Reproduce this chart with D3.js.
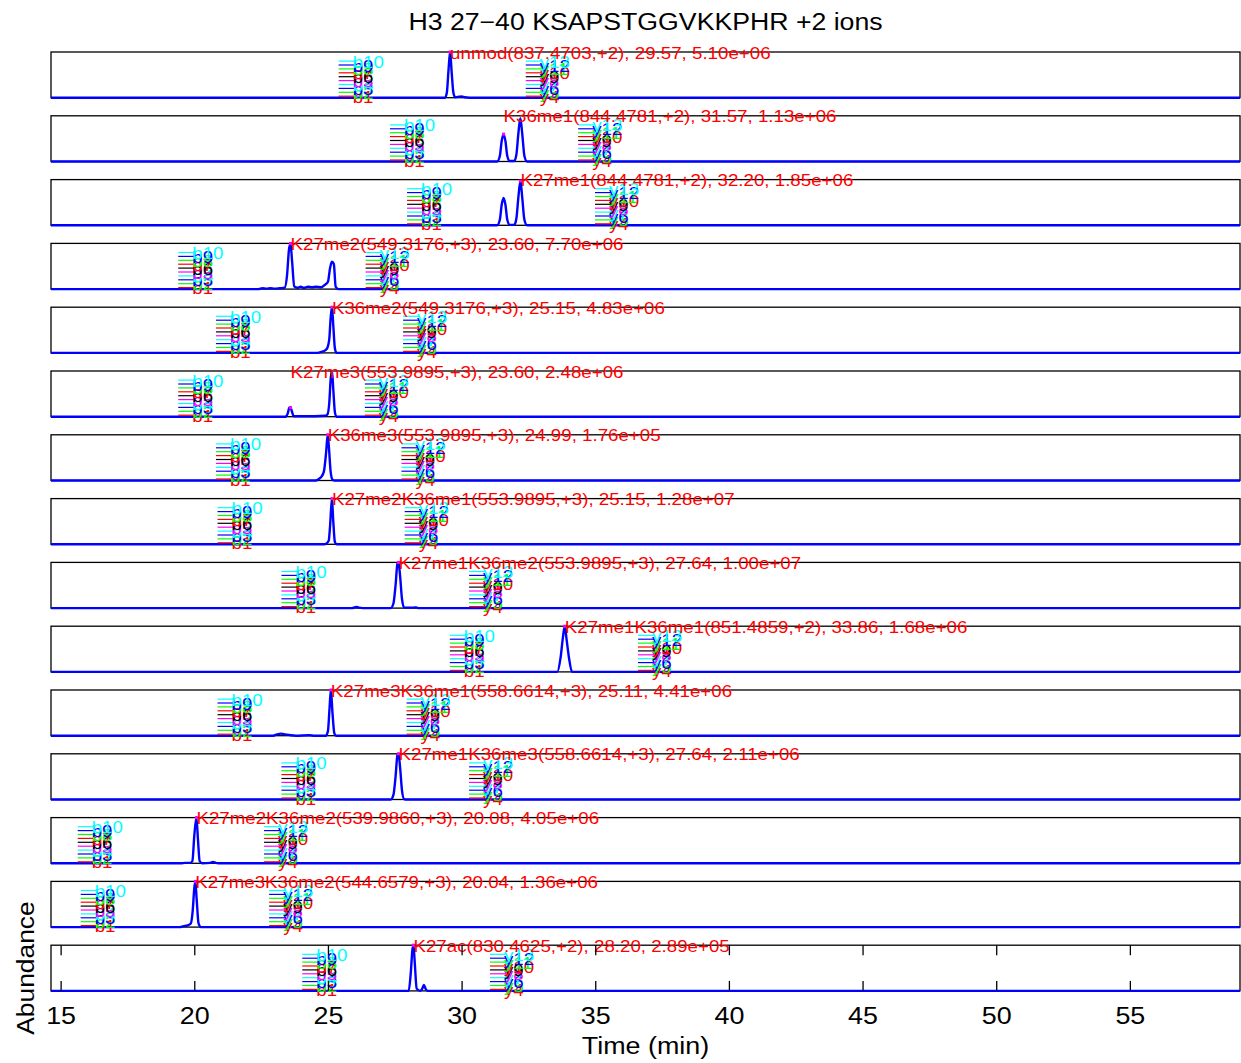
<!DOCTYPE html>
<html>
<head>
<meta charset="utf-8">
<script src="https://cdn.jsdelivr.net/npm/d3@7"></script>
<style>
  body { margin: 0; background: #fff; }
</style>
</head>
<body>
<div id="chart"></div>
<script>
// peptide forms, one panel each
const peptides = [
  "unmod(837.4703,+2)", "K36me1(844.4781,+2)", "K27me1(844.4781,+2)",
  "K27me2(549.3176,+3)", "K36me2(549.3176,+3)", "K27me3(553.9895,+3)",
  "K36me3(553.9895,+3)", "K27me2K36me1(553.9895,+3)", "K27me1K36me2(553.9895,+3)",
  "K27me1K36me1(851.4859,+2)", "K27me3K36me1(558.6614,+3)", "K27me1K36me3(558.6614,+3)",
  "K27me2K36me2(539.9860,+3)", "K27me3K36me2(544.6579,+3)", "K27ac(830.4625,+2)"
];
const rts = [29.57, 31.57, 32.20, 23.60, 25.15, 23.60, 24.99, 25.15, 27.64, 33.86, 25.11, 27.64, 20.08, 20.04, 28.20];
const areas = [5.10e6, 1.13e6, 1.85e6, 7.70e6, 4.83e6, 2.48e6, 1.76e5, 1.28e7, 1.00e7, 1.68e6, 4.41e6, 2.11e6, 4.05e6, 1.36e6, 2.89e5];

// where the b / y fragment stacks sit (min)
const bIonRT = [25.40, 27.32, 27.96, 19.40, 20.81, 19.40, 20.81, 20.87, 23.26, 29.56, 20.87, 23.26, 15.64, 15.75, 24.04];
const yIonRT = [32.40, 34.36, 34.99, 26.41, 27.81, 26.38, 27.75, 27.87, 30.28, 36.60, 27.94, 30.28, 22.61, 22.80, 31.06];

const bIons = ["b1", "b2", "b3", "b4", "b5", "b6", "b7", "b8", "b9", "b10"];
const yIons = ["y4", "y5", "y6", "y7", "y8", "y9", "y10", "y11", "y12", "y13"];
const ionColors = ["#ff0000", "#00ff00", "#0000ff", "#00ffff", "#ff00ff", "#000000"];

const xTicks = [15, 20, 25, 30, 35, 40, 45, 50, 55];

// relative abundance traces [time, rel]
const traces = [
  [[14.64,0],[29.38,0],[29.45,0.12],[29.51,0.6],[29.57,1],[29.63,0.55],[29.69,0.12],[29.76,0.01],[29.9,0.02],[30.0,0.03],[30.12,0.01],[30.3,0],[59.12,0]],
  [[14.64,0],[31.33,0],[31.43,0.12],[31.5,0.45],[31.57,0.6],[31.64,0.45],[31.71,0.12],[31.8,0.01],[31.97,0.01],[32.05,0.15],[32.13,0.65],[32.2,0.95],[32.27,0.6],[32.35,0.12],[32.45,0],[59.12,0]],
  [[14.64,0],[31.33,0],[31.43,0.12],[31.5,0.45],[31.57,0.6],[31.64,0.45],[31.71,0.12],[31.8,0.01],[31.97,0.01],[32.05,0.15],[32.13,0.65],[32.2,0.97],[32.27,0.6],[32.35,0.12],[32.45,0],[59.12,0]],
  [[14.64,0],[22.4,0],[22.55,0.02],[22.7,0.01],[22.85,0.02],[23.0,0.01],[23.2,0.02],[23.38,0.03],[23.47,0.3],[23.54,0.85],[23.6,1],[23.66,0.6],[23.74,0.06],[23.85,0.03],[23.98,0.05],[24.1,0.03],[24.25,0.05],[24.4,0.04],[24.55,0.05],[24.75,0.04],[24.9,0.1],[25.0,0.16],[25.08,0.46],[25.15,0.6],[25.22,0.55],[25.29,0.05],[25.4,0],[59.12,0]],
  [[14.64,0],[24.6,0],[24.75,0.02],[24.88,0.05],[24.97,0.1],[25.05,0.3],[25.1,0.75],[25.15,1],[25.2,0.6],[25.26,0.1],[25.32,0],[59.12,0]],
  [[14.64,0],[23.42,0],[23.5,0.08],[23.56,0.2],[23.6,0.2],[23.65,0.12],[23.72,0.01],[24.0,0.01],[24.5,0.01],[24.9,0.02],[24.98,0.05],[25.05,0.3],[25.1,0.8],[25.15,1],[25.2,0.6],[25.26,0.1],[25.32,0],[59.12,0]],
  [[14.64,0],[24.55,0],[24.65,0.03],[24.75,0.08],[24.85,0.2],[24.93,0.6],[24.99,1],[25.04,0.7],[25.1,0.2],[25.17,0.02],[25.25,0],[59.12,0]],
  [[14.64,0],[24.85,0],[24.95,0.02],[25.03,0.08],[25.08,0.4],[25.15,1],[25.2,0.5],[25.26,0.05],[25.33,0],[59.12,0]],
  [[14.64,0],[25.9,0],[26.02,0.02],[26.08,0.025],[26.16,0.01],[26.3,0],[27.35,0],[27.45,0.1],[27.53,0.5],[27.6,0.97],[27.64,1],[27.7,0.7],[27.77,0.2],[27.85,0.01],[28.2,0.01],[28.3,0.015],[28.4,0],[59.12,0]],
  [[14.64,0],[33.58,0],[33.7,0.3],[33.79,0.75],[33.86,1],[33.93,0.7],[34.02,0.3],[34.13,0],[59.12,0]],
  [[14.64,0],[22.95,0],[23.1,0.03],[23.25,0.045],[23.4,0.03],[23.6,0.01],[23.8,0],[24.3,0.01],[24.5,0],[24.92,0],[25.0,0.1],[25.06,0.6],[25.11,1],[25.17,0.5],[25.24,0.05],[25.3,0],[59.12,0]],
  [[14.64,0],[27.35,0],[27.45,0.1],[27.53,0.5],[27.6,0.97],[27.64,1],[27.7,0.7],[27.77,0.2],[27.85,0.01],[27.95,0],[59.12,0]],
  [[14.64,0],[19.5,0],[19.65,0.01],[19.85,0.01],[19.93,0.05],[20.0,0.6],[20.08,1],[20.14,0.5],[20.2,0.05],[20.3,0],[20.6,0.01],[20.7,0.03],[20.8,0.01],[20.9,0],[59.12,0]],
  [[14.64,0],[19.45,0],[19.6,0.02],[19.75,0.04],[19.87,0.08],[19.94,0.35],[20.0,0.85],[20.04,1],[20.09,0.6],[20.16,0.08],[20.25,0],[59.12,0]],
  [[14.64,0],[28.02,0],[28.1,0.4],[28.16,0.9],[28.2,1],[28.25,0.6],[28.32,0.05],[28.45,0],[28.53,0.05],[28.59,0.13],[28.65,0.05],[28.72,0],[59.12,0]]
];

let width = 1241, height = 1063;
let left = 51, right = 1240;
let firstTop = 52, step = 63.8, panelH = 45.7;

let svg = d3.select("#chart")
  .append("svg")
  .attr("width", width)
  .attr("height", height)
  .style("font-family", "'Liberation Sans', Arial, Helvetica, sans-serif");

let x = d3.scaleLinear().domain([14.64, 59.12]).range([left, right]);

function fmtArea(v) {
  return v.toExponential(2).replace(/e([+-])(\d)$/, (m, s, d) => "e" + s + "0" + d);
}

// value of a trace at time t (linear)
function valueAt(tr, t) {
  let i = d3.bisector(d => d[0]).left(tr, t);
  if (i <= 0) return tr[0][1];
  if (i >= tr.length) return tr[tr.length - 1][1];
  let a = tr[i - 1], b = tr[i];
  return a[1] + (b[1] - a[1]) * (t - a[0]) / (b[0] - a[0]);
}

function drawIons(g, t, ions, bottom) {
  let x0 = x(t);
  ions.forEach((ion, k) => {
    let ly = bottom - 1.5 - k * 3.9;
    let c = ionColors[k % ionColors.length];
    g.append("line")
      .attr("x1", x0).attr("x2", x0 + 16)
      .attr("y1", ly).attr("y2", ly)
      .attr("stroke", c).attr("stroke-width", 1.2);
    g.append("text")
      .attr("transform", "translate(" + (x0 + 14) + "," + (ly + 6.5) + ") scale(1.1,1)")
      .attr("font-size", 17)
      .attr("fill", c)
      .text(ion);
  });
}

peptides.forEach((name, i) => {
  let top = firstTop + i * step;
  let bottom = top + panelH;
  let y = d3.scaleLinear().domain([0, 1]).range([bottom, top]);
  let g = svg.append("g").attr("class", "panel");

  g.append("rect")
    .attr("x", left).attr("y", top)
    .attr("width", right - left).attr("height", panelH)
    .attr("fill", "none").attr("stroke", "#000").attr("stroke-width", 1.3);

  let line = d3.line()
    .x(d => x(d[0]))
    .y(d => y(d[1]))
    .curve(d3.curveMonotoneX);

  g.append("path")
    .datum(traces[i])
    .attr("d", line)
    .attr("fill", "none")
    .attr("stroke", "#0000ff")
    .attr("stroke-width", 2.4);

  drawIons(g, bIonRT[i], bIons, bottom);
  drawIons(g, yIonRT[i], yIons, bottom);

  let apex = valueAt(traces[i], rts[i]);
  g.append("rect")
    .attr("x", x(rts[i]) - 1.5).attr("y", y(apex) - 1.5)
    .attr("width", 3).attr("height", 3)
    .attr("fill", "#ff00ff");

  g.append("text")
    .attr("transform", "translate(" + x(rts[i]) + "," + (top + 6.5) + ") scale(1.17,1)")
    .attr("font-size", 16)
    .attr("fill", "#ff0000")
    .text(name + ", " + rts[i].toFixed(2) + ", " + fmtArea(areas[i]));
});

// axis on the last panel only
let lastTop = firstTop + (peptides.length - 1) * step;
let lastBottom = lastTop + panelH;

let axB = svg.append("g")
  .attr("transform", "translate(0," + lastBottom + ")")
  .call(d3.axisBottom(x).tickValues(xTicks).tickSize(-10).tickPadding(16).tickFormat(d3.format("d")));
axB.select(".domain").remove();
axB.attr("font-family", null).attr("font-size", 24);
axB.selectAll("line").attr("stroke", "#000").attr("stroke-width", 1.3);
axB.selectAll("text").attr("fill", "#000").attr("transform", "scale(1.12,1)");

let axT = svg.append("g")
  .attr("transform", "translate(0," + lastTop + ")")
  .call(d3.axisTop(x).tickValues(xTicks).tickSize(-10).tickFormat(""));
axT.select(".domain").remove();
axT.selectAll("line").attr("stroke", "#000").attr("stroke-width", 1.3);

// titles
svg.append("text")
  .attr("transform", "translate(" + ((left + right) / 2) + ",30) scale(1.16,1)")
  .attr("text-anchor", "middle")
  .attr("font-size", 23)
  .text("H3 27\u221240 KSAPSTGGVKKPHR +2 ions");

svg.append("text")
  .attr("transform", "translate(" + ((left + right) / 2) + ",1054) scale(1.12,1)")
  .attr("text-anchor", "middle")
  .attr("font-size", 24)
  .text("Time (min)");

svg.append("text")
  .attr("transform", "translate(33.5," + (lastTop + panelH / 2) + ") rotate(-90) scale(1.1,1)")
  .attr("text-anchor", "middle")
  .attr("font-size", 24)
  .text("Abundance");
</script>
</body>
</html>
